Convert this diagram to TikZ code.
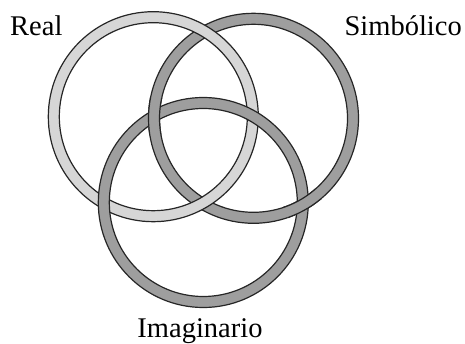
\documentclass[tikz,border=0pt]{standalone}
\usepackage{fontspec}
\setmainfont{Liberation Serif}
\definecolor{lightring}{RGB}{214,214,214}
\definecolor{darkring}{RGB}{158,158,158}
\tikzset{
  ringline/.style={draw=black!85, line width=1.2pt},
  lbl/.style={inner sep=0pt, font=\fontsize{28.5}{30}\selectfont}
}
\newcommand{\myring}[2]{%
  \fill[#2, even odd rule] (#1) circle[radius=105] (#1) circle[radius=94];
  \draw[ringline] (#1) circle[radius=105] (#1) circle[radius=94];
}
\begin{document}
\begin{tikzpicture}[x=1pt,y=-1pt]
\useasboundingbox (0,0) rectangle (465,344);
\coordinate (R) at (153.3,116.7);
\coordinate (S) at (253.5,118.3);
\coordinate (I) at (203.3,202.5);
% order: S, R, I, then S over I patches
\myring{S}{darkring}
\myring{R}{lightring}
\myring{I}{darkring}
\begin{scope}
  \clip (154,116) circle[radius=20];
  \myring{S}{darkring}
\end{scope}
\begin{scope}
  \clip (302.8,204.5) circle[radius=20];
  \myring{S}{darkring}
\end{scope}
\node[lbl, anchor=base west] (lr) at (10,36) {Real};
\node[lbl, anchor=base east] (ls) at (462,36) {Simbólico};
\node[lbl, anchor=base] (li) at (200,337) {Imaginario};
\end{tikzpicture}
\end{document}
